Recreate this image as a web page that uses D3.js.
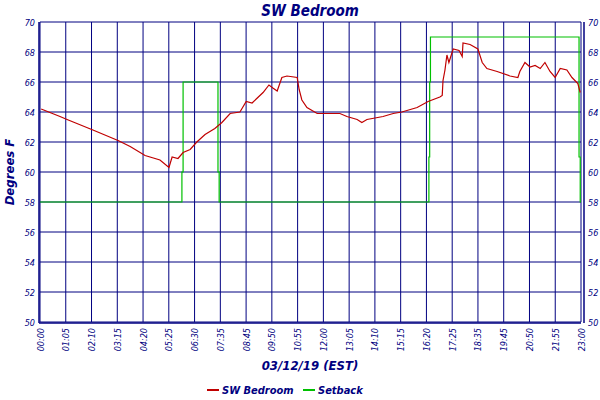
<!DOCTYPE html>
<html>
<head>
<meta charset="utf-8">
<script src="https://cdn.jsdelivr.net/npm/d3@7"></script>
<style>
  body { margin: 0; background: #fff; }
  text { font-family: "DejaVu Sans Condensed", "DejaVu Sans", Verdana, sans-serif; font-style: italic; fill: #000080; }
</style>
</head>
<body>
<svg id="svg" width="600" height="400"></svg>
<script>
// minutes since midnight, degrees F
const tempMinutes = [3, 51, 69, 135, 199, 230, 268, 306, 329, 337, 352, 365, 383, 400, 421, 446, 464, 485, 510, 526, 541, 569, 584, 594, 605, 617, 630, 656, 661, 668, 681, 707, 722, 765, 783, 809, 821, 834, 875, 901, 923, 962, 990, 1020, 1026, 1028, 1033, 1038, 1043, 1054, 1069, 1077, 1079, 1097, 1117, 1128, 1140, 1166, 1199, 1219, 1224, 1237, 1250, 1263, 1276, 1288, 1301, 1314, 1327, 1344, 1357, 1372, 1378]
const tempValues = [64.2, 63.7, 63.5, 62.8, 62.1, 61.7, 61.1, 60.8, 60.3, 61.0, 60.9, 61.3, 61.5, 62.0, 62.5, 62.9, 63.3, 63.9, 64.0, 64.7, 64.6, 65.3, 65.8, 65.6, 65.4, 66.3, 66.4, 66.3, 65.5, 64.8, 64.3, 63.9, 63.9, 63.9, 63.7, 63.5, 63.3, 63.5, 63.7, 63.9, 64.0, 64.3, 64.7, 65.0, 65.1, 66.1, 66.8, 67.8, 67.3, 68.2, 68.1, 67.7, 68.6, 68.5, 68.2, 67.3, 66.9, 66.7, 66.4, 66.3, 66.7, 67.3, 67.0, 67.1, 66.9, 67.3, 66.7, 66.3, 66.9, 66.8, 66.3, 65.9, 65.3]
const setbackMinutes = [0, 362, 365, 454, 457, 992, 994, 996, 1375, 1378, 1380]
const setbackValues = [58, 60, 66, 60, 58, 61, 66, 69, 61, 58, 58]
const tickLabels = ["00:00","01:05","02:10","03:15","04:20","05:25","06:30","07:35","08:45","09:50","10:55","12:00","13:05","14:10","15:15","16:20","17:25","18:35","19:45","20:50","21:55","23:00"]
const yTicks = [50, 52, 54, 56, 58, 60, 62, 64, 66, 68, 70]

const margin = {top: 22, right: 19, bottom: 78, left: 40}
const width = 600, height = 400

const x = d3.scaleLinear().domain([0, 1380]).range([margin.left, width - margin.right])
const y = d3.scaleLinear().domain([50, 70]).range([height - margin.bottom, margin.top])
const tickPos = d3.scalePoint().domain(tickLabels).range([margin.left, width - margin.right])

const svg = d3.select("#svg")
const navy = "#000080"

// grid
svg.append("g")
  .selectAll("line")
  .data(yTicks)
  .join("line")
    .attr("x1", margin.left).attr("x2", width - margin.right)
    .attr("y1", d => y(d)).attr("y2", d => y(d))
    .attr("stroke", navy)
svg.append("g")
  .selectAll("line")
  .data(tickLabels)
  .join("line")
    .attr("x1", d => tickPos(d)).attr("x2", d => tickPos(d))
    .attr("y1", margin.top).attr("y2", height - margin.bottom)
    .attr("stroke", navy)

// frame lines
svg.append("line").attr("x1", margin.left - 1).attr("x2", margin.left - 1)
  .attr("y1", margin.top).attr("y2", height - margin.bottom + 1).attr("stroke", navy).attr("stroke-width", 1.5)
svg.append("line").attr("x1", margin.left - 1).attr("x2", width - margin.right)
  .attr("y1", height - margin.bottom + 1).attr("y2", height - margin.bottom + 1).attr("stroke", navy).attr("stroke-width", 1.5)
svg.append("line").attr("x1", width - margin.right + 3).attr("x2", width - margin.right + 3)
  .attr("y1", margin.top).attr("y2", height - margin.bottom + 1).attr("stroke", navy).attr("stroke-width", 1.5)

// y labels left and right
svg.append("g").selectAll("text").data(yTicks).join("text")
  .attr("x", margin.left - 5).attr("y", d => y(d) + 3.5)
  .attr("text-anchor", "end").attr("font-size", 9).text(d => d)
svg.append("g").selectAll("text").data(yTicks).join("text")
  .attr("x", width - margin.right + 7).attr("y", d => y(d) + 3.5)
  .attr("text-anchor", "start").attr("font-size", 9).text(d => d)

// x labels rotated
svg.append("g").selectAll("text").data(tickLabels).join("text")
  .attr("transform", d => `translate(${tickPos(d) + 3.5},${height - margin.bottom + 6}) rotate(-90)`)
  .attr("text-anchor", "end").attr("font-size", 9).text(d => d)

// series
svg.append("path")
  .datum(d3.zip(setbackMinutes, setbackValues))
  .attr("fill", "none").attr("stroke", "#00c000").attr("stroke-width", 1.2)
  .attr("d", d3.line().x(d => x(d[0])).y(d => y(d[1])).curve(d3.curveStepAfter))
svg.append("path")
  .datum(d3.zip(tempMinutes, tempValues))
  .attr("fill", "none").attr("stroke", "#c00000").attr("stroke-width", 1.2)
  .attr("d", d3.line().x(d => x(d[0])).y(d => y(d[1])))

// titles
svg.append("text").attr("x", 310).attr("y", 16).attr("text-anchor", "middle")
  .attr("font-size", 15).attr("font-weight", "bold").text("SW Bedroom")
svg.append("text").attr("transform", "translate(14,172) rotate(-90)").attr("text-anchor", "middle")
  .attr("font-size", 13).attr("font-weight", "bold").text("Degrees F")
svg.append("text").attr("x", 310).attr("y", 370).attr("text-anchor", "middle")
  .attr("font-size", 13).attr("font-weight", "bold").text("03/12/19 (EST)")

// legend
const legend = [["SW Bedroom", "#c00000", 207], ["Setback", "#00c000", 303]]
legend.forEach(([name, color, lx]) => {
  svg.append("line").attr("x1", lx).attr("x2", lx + 12).attr("y1", 390).attr("y2", 390)
    .attr("stroke", color).attr("stroke-width", 2)
  svg.append("text").attr("x", lx + 15).attr("y", 394).attr("font-size", 11)
    .attr("font-weight", "bold").text(name)
})
</script>
</body>
</html>
